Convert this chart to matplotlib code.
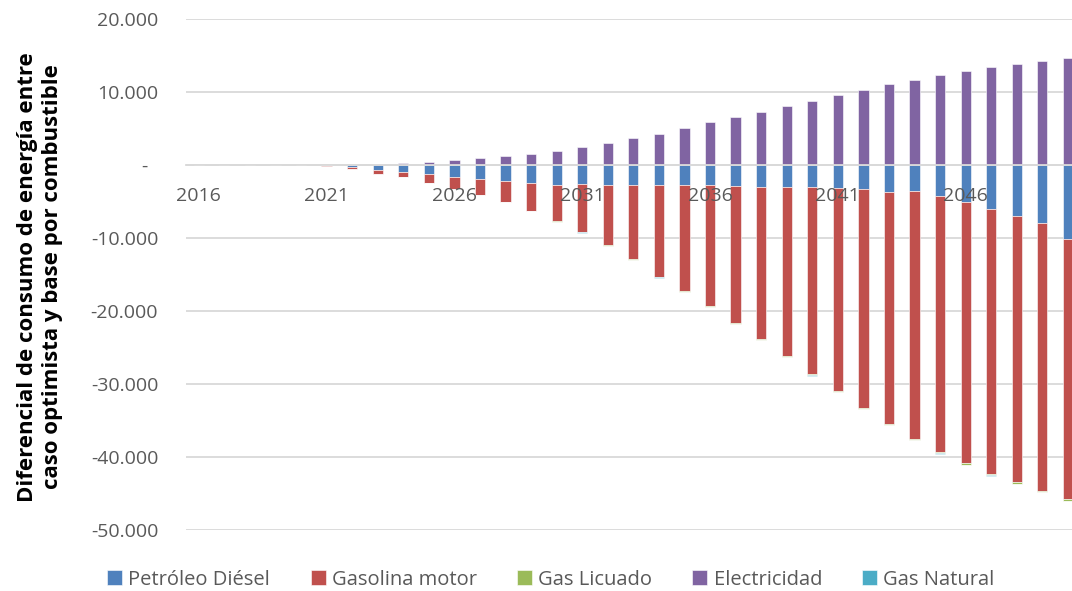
import numpy as np
from matplotlib import pyplot as plt

# Years on the category axis
years = list(range(2016, 2051))
tick_years = [2016, 2021, 2026, 2031, 2036, 2041, 2046]

# Series values
diesel = [0, 0, 0, 0, 0, -20, -300, -700, -1000, -1280, -1640, -1960, -2190, -2420, -2740,
          -2650, -2690, -2690, -2690, -2690, -2790, -2880, -3010, -3060, -2950,
          -3100, -3330, -3700, -3610, -4200, -5110, -5980, -6940, -7900, -10180]
gasolina = [0, 0, 0, 0, 0, -60, -295, -490, -675, -1210, -1665, -2160, -2840, -3830, -4960,
            -6510, -8280, -10180, -12620, -14580, -16520, -18720, -20830, -23120, -25740,
            -27870, -29960, -31770, -33900, -35130, -35760, -36340, -36520, -36690, -35630]
gas_licuado = [0, 0, 0, 0, 0, 0, -5, -10, -15, -20, -25, -30, -40, -50, -60,
               -70, -80, -90, -100, -110, -120, -125, -130, -135, -140,
               -145, -150, -155, -160, -165, -170, -175, -180, -185, -190]
electricidad = [0, 0, 0, 0, 0, 0, 30, 140, 270, 460, 690, 960, 1230, 1510, 1920,
                2420, 3010, 3650, 4290, 5020, 5840, 6580, 7260, 8080, 8810,
                9540, 10320, 11050, 11690, 12280, 12880, 13380, 13840, 14250, 14660]
gas_natural = [0, 0, 0, 0, 0, 0, 0, 0, -5, -5, -10, -10, -10, -15, -20,
               -20, -20, -20, -20, -25, -25, -30, -30, -35, -35,
               -40, -40, -45, -45, -50, -50, -55, -55, -60, -60]

labels = ["Petróleo Diésel", "Gasolina motor", "Gas Licuado", "Electricidad", "Gas Natural"]
colors = ["#4F81BD", "#C0504D", "#9BBB59", "#8064A2", "#4BACC6"]

plt.rcParams['font.family'] = ['Open Sans', 'DejaVu Sans']
grey_text = "#595959"
grid_color = "#D9D9D9"

fig = plt.figure(figsize=(10.72, 5.91), dpi=100)
ax = fig.add_axes([186 / 1072, 61 / 591, 886 / 1072, 511 / 591])

x = np.array(years)
width = 0.4

# Negative values stack downward from zero, positive ones upward (Excel style)
series = [diesel, gasolina, gas_licuado, electricidad, gas_natural]
pos_base = np.zeros(len(years))
neg_base = np.zeros(len(years))
handles = []
for vals, lab, col in zip(series, labels, colors):
    v = np.array(vals, dtype=float)
    bottom = np.where(v >= 0, pos_base, neg_base)
    b = ax.bar(x, v, width, bottom=bottom, color=col, edgecolor="white",
               linewidth=0.4, label=lab, zorder=1)
    handles.append(b)
    pos_base = pos_base + np.where(v >= 0, v, 0)
    neg_base = neg_base + np.where(v < 0, v, 0)

# Gridlines behind the bars
yticks = [20000, 10000, 0, -10000, -20000, -30000, -40000, -50000]
for yt in yticks:
    ax.axhline(yt, color=grid_color, linewidth=1.3, zorder=0)

ax.set_xlim(2015.5, 2050.16)
ax.set_ylim(-50000, 20000)

ytick_labels = []
for yt in yticks:
    if yt == 0:
        ytick_labels.append("-  ")
    else:
        ytick_labels.append(f"{yt:,}".replace(",", "."))
ax.set_yticks(yticks)
ax.set_yticklabels(ytick_labels)
ax.set_xticks([])

for side in ["left", "right", "top"]:
    ax.spines[side].set_visible(False)
ax.spines["bottom"].set_position(("data", 0))
ax.spines["bottom"].set_color(grid_color)
ax.spines["bottom"].set_linewidth(1.3)

ax.tick_params(axis="y", length=0, pad=20, labelsize=14, labelcolor=grey_text)

# year labels hang under the zero line and sit on top of the bars
for yr in tick_years:
    ax.annotate(str(yr), (yr, 0), xytext=(0, -16), textcoords="offset points",
                ha="center", va="top", fontsize=14, color=grey_text, zorder=5)

fig.text(40 / 1072, 1 - 277 / 591,
         "Diferencial de consumo de energía entre\ncaso optimista y base por combustible",
         rotation=90, ha="center", va="center", multialignment="center",
         fontsize=16, fontweight="bold", color="black", linespacing=1.3)

fig.legend(handles=handles, labels=labels, loc="center", bbox_to_anchor=(0.514, 0.019),
           ncol=5, frameon=False, fontsize=14.5, labelcolor=grey_text,
           handlelength=0.75, handleheight=0.75, handletextpad=0.3, columnspacing=2.0)

plt.savefig("out.png", dpi=100)
